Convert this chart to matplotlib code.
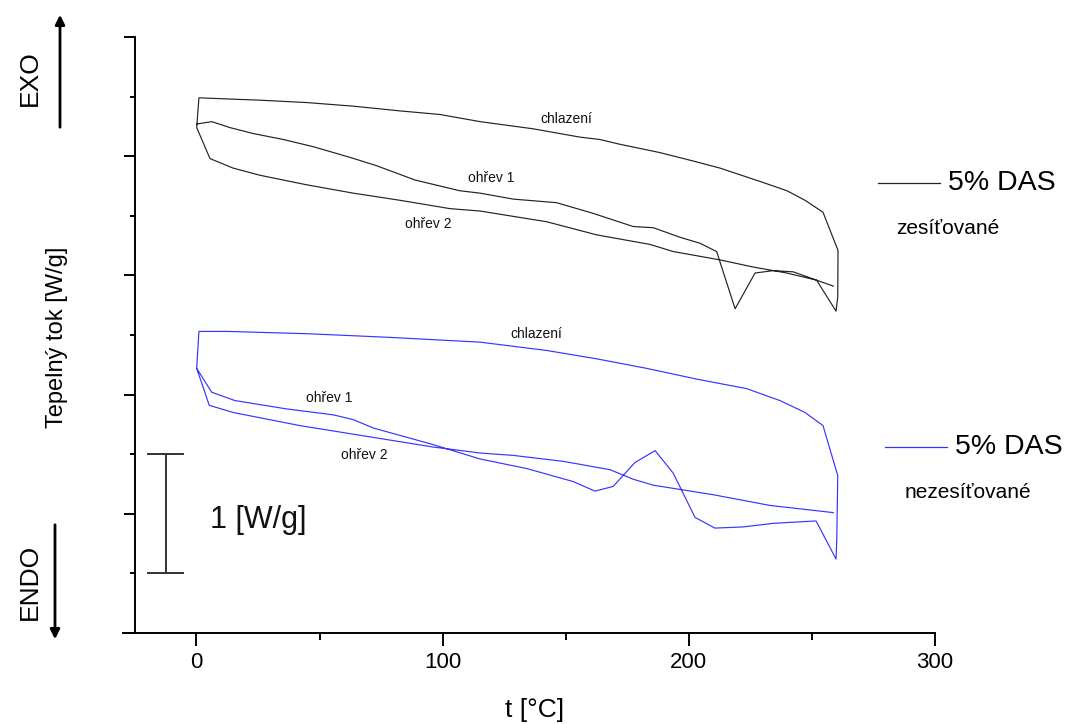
import matplotlib
matplotlib.use('Agg')
import matplotlib.pyplot as plt
from matplotlib.ticker import MultipleLocator

NARROW = ['Liberation Sans Narrow', 'Liberation Sans', 'DejaVu Sans']
SANS = ['Liberation Sans', 'DejaVu Sans']
plt.rcParams['font.family'] = SANS

W, H = 1068, 724

# 5% DAS zesíťované – ohřev 1, chlazení, ohřev 2
zes_ohrev1_t = [0.1, 6.2, 13.6, 23.1, 35.3, 47.4, 62.4, 73.2, 88.8, 107.0, 115.2, 128.7,
                146.3, 161.2, 177.4, 185.6, 196.4, 204.5, 211.3, 218.8, 226.9, 234.3,
                242.4, 251.9, 259.8]
zes_ohrev1_q = [4.27, 4.29, 4.24, 4.19, 4.14, 4.08, 3.99, 3.92, 3.80, 3.71, 3.69, 3.64,
                3.61, 3.52, 3.41, 3.40, 3.32, 3.27, 3.20, 2.72, 3.02, 3.04,
                3.03, 2.96, 2.70]
zes_chlazeni_t = [260.5, 260.6, 254.5, 247.2, 239.9, 230.1, 212.7, 201.7, 188.3, 172.0,
                  163.9, 155.8, 136.7, 115.2, 98.9, 82.7, 63.6, 44.8, 25.8, 12.9, 1.0]
zes_chlazeni_q = [2.82, 3.21, 3.53, 3.63, 3.71, 3.78, 3.90, 3.96, 4.03, 4.10,
                  4.14, 4.16, 4.23, 4.29, 4.35, 4.38, 4.42, 4.45, 4.47, 4.48, 4.49]
zes_ohrev2_t = [0.1, 5.5, 14.9, 25.8, 44.8, 63.7, 82.7, 103.0, 115.2, 142.3, 162.6,
                184.2, 193.7, 212.7, 226.2, 239.8, 251.9, 258.7]
zes_ohrev2_q = [4.24, 3.98, 3.90, 3.84, 3.76, 3.69, 3.63, 3.56, 3.54, 3.45, 3.34,
                3.26, 3.20, 3.13, 3.07, 3.02, 2.96, 2.91]

# 5% DAS nezesíťované
nez_ohrev1_t = [0.1, 6.2, 15.6, 36.6, 55.6, 63.7, 71.8, 96.2, 115.2, 134.1, 153.1,
                161.9, 169.3, 178.1, 186.3, 193.7, 202.5, 210.6, 222.1, 234.3, 251.7, 259.8]
nez_ohrev1_q = [2.22, 2.02, 1.95, 1.88, 1.83, 1.79, 1.72, 1.58, 1.46, 1.38, 1.27,
                1.19, 1.23, 1.43, 1.53, 1.34, 0.97, 0.88, 0.89, 0.92, 0.94, 0.62]
nez_chlazeni_t = [260.1, 260.5, 254.5, 247.2, 237.0, 223.5, 203.2, 182.9, 162.6, 142.3,
                  115.2, 78.6, 46.1, 12.9, 1.0]
nez_chlazeni_q = [0.78, 1.32, 1.74, 1.85, 1.95, 2.05, 2.13, 2.22, 2.30, 2.37,
                  2.44, 2.48, 2.51, 2.53, 2.53]
nez_ohrev2_t = [0.1, 5.2, 14.9, 42.0, 69.1, 96.2, 115.2, 128.7, 149.0, 168.0, 177.4,
                185.6, 209.9, 233.0, 258.7]
nez_ohrev2_q = [2.22, 1.91, 1.85, 1.74, 1.65, 1.56, 1.51, 1.49, 1.44, 1.37, 1.29,
                1.24, 1.16, 1.07, 1.01]

BLACK = '#222222'
BLUE = '#3535ff'

fig = plt.figure(figsize=(W / 100, H / 100), dpi=100)
ax = fig.add_axes([122.6 / W, 1 - 633 / H, (935 - 122.6) / W, 596 / H])

# celý záznam: ohřev 1 -> chlazení -> ohřev 2
ax.plot(zes_ohrev1_t + zes_chlazeni_t + zes_ohrev2_t,
        zes_ohrev1_q + zes_chlazeni_q + zes_ohrev2_q, color=BLACK, lw=0.85)
ax.plot(nez_ohrev1_t + nez_chlazeni_t + nez_ohrev2_t,
        nez_ohrev1_q + nez_chlazeni_q + nez_ohrev2_q, color=BLUE, lw=0.85)

ax.set_xlim(-30, 300)
ax.set_ylim(0, 5)
for s in ['top', 'right']:
    ax.spines[s].set_visible(False)
ax.spines['left'].set_position(('data', -25))
for s in ['left', 'bottom']:
    ax.spines[s].set_linewidth(1.4)

ax.xaxis.set_major_locator(MultipleLocator(100))
ax.xaxis.set_minor_locator(MultipleLocator(50))
ax.yaxis.set_major_locator(MultipleLocator(1))
ax.yaxis.set_minor_locator(MultipleLocator(0.5))
ax.tick_params(axis='x', which='major', direction='out', length=9, width=1.4, pad=5)
ax.tick_params(axis='x', which='minor', direction='out', length=5, width=1.4)
ax.tick_params(axis='y', which='major', direction='out', length=8, width=1.4, labelleft=False)
ax.tick_params(axis='y', which='minor', direction='out', length=3.6, width=1.4)
for lab in ax.get_xticklabels():
    lab.set_fontfamily(NARROW)
    lab.set_fontsize(16)

ax.set_xlabel('t [°C]', family=NARROW, fontsize=19)
ax.xaxis.set_label_coords((535 - 122.6) / 812.4, (633 - 710) / 596)
ax.xaxis.label.set_va('center')
ax.set_ylabel('Tepelný tok [W/g]', family=NARROW, fontsize=17)
ax.yaxis.set_label_coords((57 - 122.6) / 812.4, (633 - 337) / 596)
ax.yaxis.label.set_va('center')

# popisky křivek
popisky = [
    (150.1, 4.31, 'chlazení'), (119.6, 3.82, 'ohřev 1'), (94.0, 3.43, 'ohřev 2'),
    (137.9, 2.51, 'chlazení'), (53.8, 1.97, 'ohřev 1'), (68.0, 1.49, 'ohřev 2'),
]
for x, y, t in popisky:
    ax.text(x, y, t, ha='center', va='center', fontsize=10, color='#111111')

# měřítko 1 W/g
ax.plot([-12.4, -12.4], [0.5, 1.5], color='#333333', lw=1.4, clip_on=False)
for yy in (0.5, 1.5):
    ax.plot([-19.7, -5.5], [yy, yy], color='#333333', lw=1.4, clip_on=False)
ax.text(5.3, 0.95, '1 [W/g]', ha='left', va='center', fontsize=22, color='#111111')


def fp(x, y):
    return x / W, 1 - y / H


# legenda
for y, col, sub in [(183, BLACK, 'zesíťované'), (447, BLUE, 'nezesíťované')]:
    x0 = 878 if col == BLACK else 885
    fig.add_artist(plt.Line2D([x0 / W, (x0 + 62) / W], [1 - y / H] * 2, color=col, lw=0.9))
    fig.text(*fp(x0 + 70, y), '5% DAS', ha='left', va='center', fontsize=20.5)
    fig.text(*fp(948 if col == BLACK else 968, y + 45), sub, ha='center', va='center', fontsize=15)

# EXO / ENDO
arr = dict(arrowstyle='-|>', color='black', lw=2, mutation_scale=14)
ax.annotate('', xy=fp(60, 12), xytext=fp(60, 130), xycoords='figure fraction', arrowprops=arr)
ax.annotate('', xy=fp(55, 642), xytext=fp(55, 522), xycoords='figure fraction', arrowprops=arr)
fig.text(*fp(30, 78), 'EXO', rotation=90, ha='center', va='center', fontsize=19)
fig.text(*fp(30, 582), 'ENDO', rotation=90, ha='center', va='center', fontsize=19)

fig.savefig('out.png', dpi=100, facecolor='white')
